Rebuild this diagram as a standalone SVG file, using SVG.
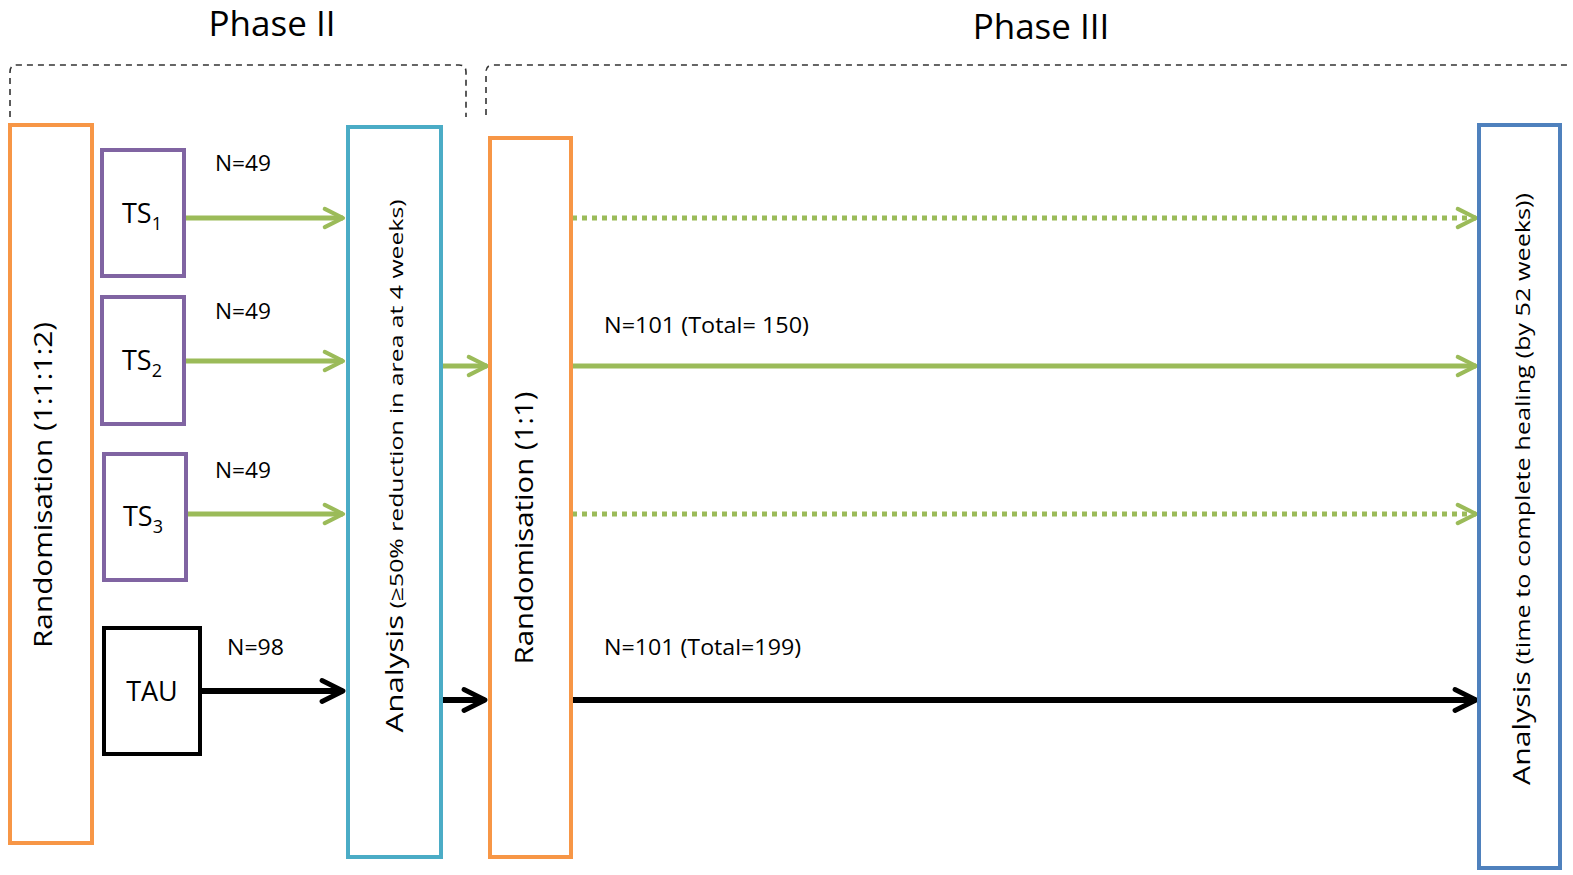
<svg xmlns="http://www.w3.org/2000/svg" width="1573" height="875" viewBox="0 0 1573 875">
<style>
text{font-family:"Open Sans","Liberation Sans",sans-serif;fill:#000}
.box{fill:#fff;stroke-width:4}
.or{stroke:#F79646}.pu{stroke:#8064A2}.bk{stroke:#000}.cy{stroke:#4BACC6}.bl{stroke:#4F81BD}
.lbl{font-size:21px}
.g{stroke:#9BBB59;stroke-width:5;fill:none}
.k{stroke:#000;stroke-width:6;fill:none}
.dot{stroke-dasharray:5 5}
.br{fill:none;stroke:#333;stroke-width:1.6;stroke-dasharray:6 5}
</style>
<defs>
<marker id="ag" viewBox="0 0 10 10" refX="9" refY="5" markerWidth="5.2" markerHeight="5.2" markerUnits="strokeWidth" orient="auto">
<polyline points="2,1.5 9,5 2,8.5" fill="none" stroke="#9BBB59" stroke-width="1.6" stroke-linecap="round" stroke-linejoin="round"/>
</marker>
<marker id="ak" viewBox="0 0 10 10" refX="9" refY="5" markerWidth="5" markerHeight="5" markerUnits="strokeWidth" orient="auto">
<polyline points="2,1.5 9,5 2,8.5" fill="none" stroke="#000" stroke-width="1.6" stroke-linecap="round" stroke-linejoin="round"/>
</marker>
</defs>
<rect width="1573" height="875" fill="#fff"/>
<g id="titles">
<text x="272" y="36" font-size="35" text-anchor="middle">Phase II</text>
<text x="1041" y="39" font-size="35" text-anchor="middle">Phase III</text>
<path class="br" d="M10,117 V72 Q10,65 17,65 H459 Q466,65 466,72 V117"/>
<path class="br" d="M486,115 V72 Q486,65 493,65 H1568"/>
</g>
<g id="connectors">
<line class="g" x1="184" y1="218" x2="343" y2="218" marker-end="url(#ag)"/>
<line class="g" x1="184" y1="361" x2="343" y2="361" marker-end="url(#ag)"/>
<line class="g" x1="186" y1="514" x2="343" y2="514" marker-end="url(#ag)"/>
<line class="k" x1="200" y1="691" x2="343" y2="691" marker-end="url(#ak)"/>
<line class="g" x1="441" y1="366" x2="487" y2="366" marker-end="url(#ag)"/>
<line class="k" x1="441" y1="700" x2="485" y2="700" marker-end="url(#ak)"/>
<line class="g dot" x1="572" y1="218" x2="1476" y2="218" marker-end="url(#ag)"/>
<line class="g" x1="572" y1="366" x2="1476" y2="366" marker-end="url(#ag)"/>
<line class="g dot" x1="572" y1="514" x2="1476" y2="514" marker-end="url(#ag)"/>
<line class="k" x1="572" y1="700" x2="1476" y2="700" marker-end="url(#ak)"/>
<text class="lbl" x="215" y="171" textLength="56" lengthAdjust="spacingAndGlyphs">N=49</text>
<text class="lbl" x="215" y="319" textLength="56" lengthAdjust="spacingAndGlyphs">N=49</text>
<text class="lbl" x="215" y="478" textLength="56" lengthAdjust="spacingAndGlyphs">N=49</text>
<text class="lbl" x="227" y="655" textLength="57" lengthAdjust="spacingAndGlyphs">N=98</text>
<text class="lbl" x="604" y="333" textLength="205" lengthAdjust="spacingAndGlyphs">N=101 (Total= 150)</text>
<text class="lbl" x="604" y="655" textLength="197" lengthAdjust="spacingAndGlyphs">N=101 (Total=199)</text>
</g>
<g id="rand1">
<rect class="box or" x="10" y="125" width="82" height="718"/>
<text transform="translate(52,485) rotate(-90)" font-size="26" text-anchor="middle" textLength="326" lengthAdjust="spacingAndGlyphs">Randomisation (1:1:1:2)</text>
</g>
<g id="ts1">
<rect class="box pu" x="102" y="150" width="82" height="126"/>
<text x="122" y="223" font-size="27">TS<tspan font-size="18" dy="7">1</tspan></text>
</g>
<g id="ts2">
<rect class="box pu" x="102" y="297" width="82" height="127"/>
<text x="122" y="370" font-size="27">TS<tspan font-size="18" dy="7">2</tspan></text>
</g>
<g id="ts3">
<rect class="box pu" x="104" y="454" width="82" height="126"/>
<text x="123" y="526" font-size="27">TS<tspan font-size="18" dy="7">3</tspan></text>
</g>
<g id="tau">
<rect class="box bk" x="104" y="628" width="96" height="126"/>
<text x="152" y="701" font-size="27" text-anchor="middle">TAU</text>
</g>
<g id="analysis1">
<rect class="box cy" x="348" y="127" width="93" height="730"/>
<text transform="translate(403,466) rotate(-90)" text-anchor="middle" textLength="533" lengthAdjust="spacingAndGlyphs"><tspan font-size="24">Analysis</tspan><tspan font-size="19"> (≥50% reduction in area at 4 weeks)</tspan></text>
</g>
<g id="rand2">
<rect class="box or" x="490" y="138" width="81" height="719"/>
<text transform="translate(533,528) rotate(-90)" font-size="26" text-anchor="middle" textLength="273" lengthAdjust="spacingAndGlyphs">Randomisation (1:1)</text>
</g>
<g id="analysis2">
<rect class="box bl" x="1479" y="125" width="81" height="743"/>
<text transform="translate(1530,489) rotate(-90)" text-anchor="middle" textLength="592" lengthAdjust="spacingAndGlyphs"><tspan font-size="24">Analysis</tspan><tspan font-size="20"> (time to complete healing (by 52 weeks))</tspan></text>
</g>
</svg>
